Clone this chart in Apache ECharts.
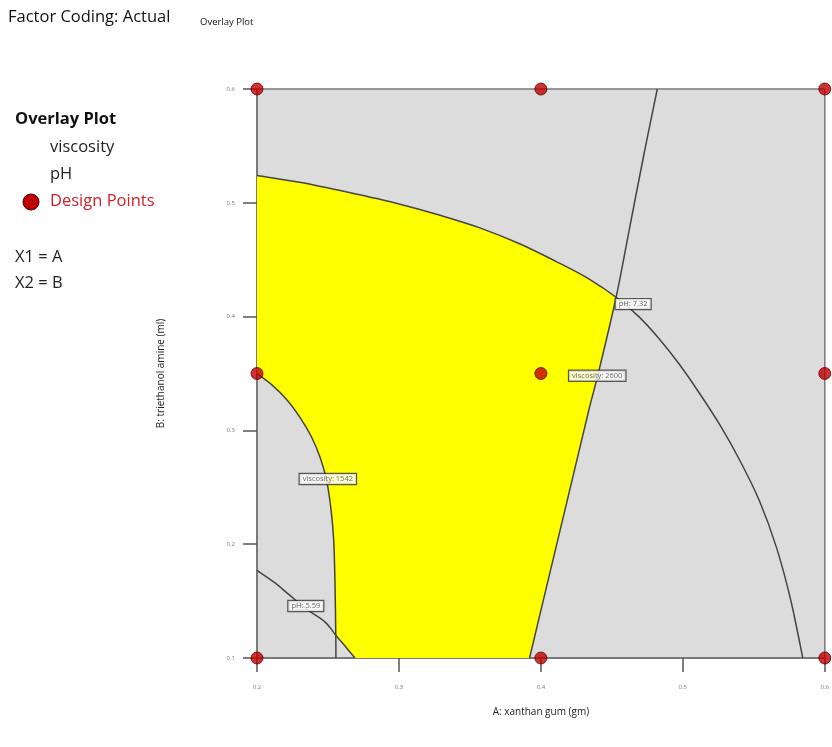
<!DOCTYPE html>
<html>
<head>
<meta charset="utf-8">
<script src="https://cdn.jsdelivr.net/npm/echarts@6/dist/echarts.min.js"></script>
<style>
  html, body { margin: 0; padding: 0; background: #fff; }
  #chart { width: 832px; height: 747px; }
</style>
</head>
<body>
<div id="chart"></div>
<script>
// Factor A: xanthan gum (gm), factor B: triethanol amine (ml)
const xTicks = [0.2, 0.3, 0.4, 0.5, 0.6];
const yTicks = [0.1, 0.2, 0.3, 0.4, 0.5, 0.6];

// Design points (A, B)
const designPoints = [
  [0.2, 0.1], [0.2, 0.35], [0.2, 0.6],
  [0.4, 0.1], [0.4, 0.35], [0.4, 0.6],
  [0.6, 0.1], [0.6, 0.35], [0.6, 0.6]
];

// Contour pH = 7.32 (index 9 is where it meets viscosity 2600)
const ph732 = [
  [0.2, 0.524], [0.230, 0.518], [0.265, 0.509], [0.300, 0.499], [0.329, 0.489],
  [0.357, 0.478], [0.385, 0.464], [0.413, 0.447], [0.434, 0.433], [0.453, 0.417],
  [0.469, 0.400], [0.483, 0.381], [0.497, 0.359], [0.511, 0.334], [0.526, 0.305],
  [0.540, 0.274], [0.554, 0.238], [0.566, 0.197], [0.576, 0.151], [0.5845, 0.1]
];

// Contour viscosity = 2600 (index 5 is where it meets pH 7.32)
const visc2600 = [
  [0.392, 0.1], [0.406, 0.173], [0.420, 0.246], [0.434, 0.319], [0.440, 0.348],
  [0.453, 0.417], [0.4622, 0.476], [0.4725, 0.542], [0.482, 0.6]
];

// Contour viscosity = 1542 (index 10 is where it meets pH 5.59)
const visc1542 = [
  [0.2, 0.35], [0.2105, 0.340], [0.221, 0.327], [0.2305, 0.311], [0.2385, 0.294],
  [0.2448, 0.275], [0.2492, 0.255], [0.2522, 0.230], [0.254, 0.204], [0.2549, 0.1685],
  [0.2555, 0.120], [0.2556, 0.1]
];

// Contour pH = 5.59 (index 5 is where it meets viscosity 1542)
const ph559 = [
  [0.2, 0.177], [0.2127, 0.166], [0.2232, 0.155], [0.236, 0.142], [0.248, 0.1315],
  [0.2555, 0.120], [0.262, 0.1105], [0.269, 0.1]
];

// Contour labels: level text and the point on the contour where it sits
const contourLabels = [
  { text: 'pH: 7.32', at: [0.465, 0.411] },
  { text: 'viscosity: 2600', at: [0.4397, 0.348] },
  { text: 'viscosity: 1542', at: [0.2499, 0.2573] },
  { text: 'pH: 5.59', at: [0.2344, 0.1457] }
];

// Feasible (overlay) region: pieces of the bounding contours, in order
const regionPieces = [
  ph732.slice(0, 10),
  visc2600.slice(0, 6).reverse(),
  ph559.slice(5).reverse(),
  visc1542.slice(0, 11).reverse()
];

// Smooth path through a run of pixel points (Catmull-Rom as cubic Beziers)
function smoothRun(pts, first) {
  let d = (first ? 'M' : 'L') + pts[0][0] + ' ' + pts[0][1];
  for (let i = 0; i < pts.length - 1; i++) {
    const p0 = pts[i - 1] || pts[i], p1 = pts[i], p2 = pts[i + 1], p3 = pts[i + 2] || pts[i + 1];
    const c1 = [p1[0] + (p2[0] - p0[0]) / 6, p1[1] + (p2[1] - p0[1]) / 6];
    const c2 = [p2[0] - (p3[0] - p1[0]) / 6, p2[1] - (p3[1] - p1[1]) / 6];
    d += ' C' + c1[0] + ' ' + c1[1] + ' ' + c2[0] + ' ' + c2[1] + ' ' + p2[0] + ' ' + p2[1];
  }
  return d;
}

const chart = echarts.init(document.getElementById('chart'));
const font = '"Open Sans", "Noto Sans", sans-serif';

function contourSeries(data) {
  return { type: 'custom', coordinateSystem: 'cartesian2d', z: 3, silent: true,
    data: [data[0]],
    renderItem: function (params, api) {
      const px = data.map(p => api.coord(p));
      return { type: 'path', shape: { pathData: smoothRun(px, true) },
        style: { fill: null, stroke: '#454545', lineWidth: 1.5 } };
    } };
}

chart.setOption({
  animation: false,
  textStyle: { fontFamily: font },
  grid: {
    left: 257, top: 89, width: 569, height: 569,
    show: true, backgroundColor: '#dcdcdc', borderColor: '#7a7a7a', borderWidth: 1.5
  },
  xAxis: {
    type: 'value', min: xTicks[0], max: xTicks[xTicks.length - 1], interval: 0.1,
    name: 'A: xanthan gum (gm)', nameLocation: 'middle', nameGap: 49,
    nameTextStyle: { fontSize: 10, color: '#222', fontFamily: font },
    axisLine: { show: true, lineStyle: { color: '#7a7a7a', width: 2 } },
    axisTick: { show: true, length: 14, lineStyle: { color: '#555', width: 1.5 } },
    axisLabel: { fontSize: 6, color: '#777', margin: 26,
      formatter: v => String(+v.toFixed(1)) },
    splitLine: { show: false }
  },
  yAxis: {
    type: 'value', min: yTicks[0], max: yTicks[yTicks.length - 1], interval: 0.1,
    name: 'B: triethanol amine (ml)', nameLocation: 'middle', nameGap: 91,
    nameTextStyle: { fontSize: 10, color: '#222', fontFamily: font },
    axisLine: { show: true, lineStyle: { color: '#7a7a7a', width: 2 } },
    axisTick: { show: true, length: 14, lineStyle: { color: '#555', width: 1.5 } },
    axisLabel: { fontSize: 6, color: '#777', margin: 22,
      formatter: v => String(+v.toFixed(1)) },
    splitLine: { show: false }
  },
  series: [
    {
      type: 'custom', coordinateSystem: 'cartesian2d', z: 1, silent: true,
      data: [[0.3, 0.3]],
      renderItem: function (params, api) {
        let d = '';
        regionPieces.forEach((piece, i) => { d += smoothRun(piece.map(p => api.coord(p)), i === 0) + ' '; });
        d += 'Z';
        return { type: 'path', shape: { pathData: d }, style: { fill: '#ffff00', stroke: null } };
      }
    },
    contourSeries(ph732),
    contourSeries(visc2600),
    contourSeries(visc1542),
    contourSeries(ph559),
    {
      type: 'scatter', z: 5, silent: true, symbolSize: 0,
      data: contourLabels.map(l => ({ value: l.at, name: l.text })),
      label: {
        show: true, position: 'inside', formatter: p => p.name,
        fontSize: 7.5, color: '#444', backgroundColor: '#fff',
        borderColor: '#333', borderWidth: 1.2, padding: [1, 3], fontFamily: font
      }
    },
    {
      type: 'scatter', z: 6, silent: true, clip: false,
      data: designPoints, symbolSize: 12,
      itemStyle: { color: '#c00000', borderColor: '#5a0000', borderWidth: 1 }
    }
  ],
  graphic: [
    { type: 'text', left: 8, top: 9, style: { text: 'Factor Coding: Actual', fontSize: 16.5, fill: '#111', fontFamily: font } },
    { type: 'text', left: 200, top: 17, style: { text: 'Overlay Plot', fontSize: 9.5, fill: '#111', fontFamily: font } },
    { type: 'text', left: 15, top: 111, style: { text: 'Overlay Plot', fontSize: 16.5, fontWeight: 'bold', fill: '#111', fontFamily: font } },
    { type: 'text', left: 50, top: 139, style: { text: 'viscosity', fontSize: 16.5, fill: '#222', fontFamily: font } },
    { type: 'text', left: 50, top: 166, style: { text: 'pH', fontSize: 16.5, fill: '#222', fontFamily: font } },
    { type: 'circle', shape: { cx: 31, cy: 202, r: 8 }, style: { fill: '#c00000', stroke: '#400000', lineWidth: 1 } },
    { type: 'text', left: 50, top: 193, style: { text: 'Design Points', fontSize: 16.5, fill: '#d0202a', fontFamily: font } },
    { type: 'text', left: 15, top: 249, style: { text: 'X1 = A', fontSize: 16.5, fill: '#222', fontFamily: font } },
    { type: 'text', left: 15, top: 275, style: { text: 'X2 = B', fontSize: 16.5, fill: '#222', fontFamily: font } }
  ]
});
</script>
</body>
</html>
